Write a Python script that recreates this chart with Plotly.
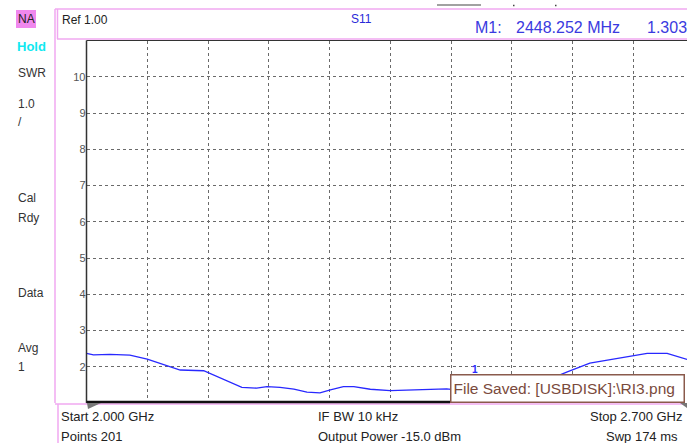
import plotly.graph_objects as go

W, H = 687, 443

# ---- data ----
freq_ghz = [2.000, 2.008, 2.027, 2.050, 2.070, 2.081, 2.097, 2.108, 2.135, 2.146,
            2.166, 2.179, 2.196, 2.208, 2.223, 2.239, 2.254, 2.269, 2.281, 2.296,
            2.308, 2.327, 2.350, 2.377, 2.392, 2.415, 2.448, 2.480, 2.515, 2.540,
            2.554, 2.580, 2.607, 2.630, 2.646, 2.669, 2.688, 2.692]
swr = [2.37, 2.33, 2.34, 2.32, 2.21, 2.12, 1.98, 1.91, 1.89, 1.77,
       1.56, 1.43, 1.41, 1.45, 1.43, 1.38, 1.30, 1.28, 1.36, 1.45,
       1.45, 1.38, 1.34, 1.36, 1.39, 1.39, 1.30, 1.35, 1.55, 1.72,
       1.86, 2.10, 2.21, 2.30, 2.37, 2.37, 2.23, 2.20]
marker_freq = 2.448252
marker_swr = 1.303
y_ticks = [2, 3, 4, 5, 6, 7, 8, 9, 10]
x_grid = [2.07, 2.14, 2.21, 2.28, 2.35, 2.42, 2.49, 2.56, 2.63]
status_labels = ["Hold", "SWR", "1.0", "/", "Cal", "Rdy", "Data", "Avg", "1"]

def px(x):
    return x / W

def py(y):
    return 1 - y / H

fig = go.Figure()
fig.add_trace(go.Scatter(x=freq_ghz, y=swr, mode="lines",
                         line=dict(color="#2828ff", width=1.3), hoverinfo="skip"))

FONT = "Liberation Sans, Arial, sans-serif"
grid = dict(showgrid=True, gridcolor="#6a6a6a", griddash="dot", gridwidth=1,
            zeroline=False, showline=False, ticks="")

fig.update_layout(
    width=W, height=H, margin=dict(l=0, r=0, t=0, b=0),
    paper_bgcolor="white", plot_bgcolor="white", showlegend=False,
    font=dict(family=FONT, size=12, color="#222"),
    xaxis=dict(domain=[86.5 / W, 1], range=[2.0, 2.0 + 0.7 * (W - 86.5) / 607.5],
               tickvals=x_grid, showticklabels=False, **grid),
    yaxis=dict(domain=[py(403), py(40.5)], range=[1, 11], tickvals=y_ticks,
               ticktext=[str(v) for v in y_ticks],
               tickfont=dict(size=11, color="#555"), **grid),
)

shapes = []
pink = "#f0a8f0"
# outer pink frame lines
shapes.append(dict(type="line", xref="paper", yref="paper", x0=px(55), x1=px(55), y0=py(9), y1=py(403),
                   line=dict(color=pink, width=1.5)))
shapes.append(dict(type="line", xref="paper", yref="paper", x0=px(55), x1=1, y0=py(9), y1=py(9),
                   line=dict(color=pink, width=1.5)))
shapes.append(dict(type="line", xref="paper", yref="paper", x0=px(57.5), x1=px(57.5), y0=py(9), y1=py(39),
                   line=dict(color=pink, width=1.5)))
shapes.append(dict(type="line", xref="paper", yref="paper", x0=px(57), x1=1, y0=py(39), y1=py(39),
                   line=dict(color=pink, width=1.5)))
shapes.append(dict(type="line", xref="paper", yref="paper", x0=px(55), x1=1, y0=py(404), y1=py(404),
                   line=dict(color=pink, width=1.5)))
shapes.append(dict(type="line", xref="paper", yref="paper", x0=px(58), x1=px(58), y0=py(404), y1=0,
                   line=dict(color=pink, width=1.5)))
# plot frame lines
shapes.append(dict(type="line", xref="paper", yref="paper", x0=px(86.5), x1=px(86.5), y0=py(403), y1=py(40.5),
                   line=dict(color="#333", width=1.5)))
shapes.append(dict(type="line", xref="paper", yref="paper", x0=px(86.5), x1=1, y0=py(40.5), y1=py(40.5),
                   line=dict(color="#333", width=1.2)))
shapes.append(dict(type="line", xref="paper", yref="paper", x0=px(86.5), x1=px(450), y0=py(402), y1=py(402),
                   line=dict(color="#111", width=2.5)))
# NA highlight
shapes.append(dict(type="rect", xref="paper", yref="paper", x0=px(16), x1=px(36), y0=py(28), y1=py(10),
                   fillcolor="#f088ee", line=dict(width=0)))
# small top marks
shapes.append(dict(type="line", xref="paper", yref="paper", x0=px(437), x1=px(481), y0=py(5), y1=py(5),
                   line=dict(color="#444", width=1.2)))
for xx in (513, 555):
    shapes.append(dict(type="line", xref="paper", yref="paper", x0=px(xx), x1=px(xx + 1.5), y0=py(5.5), y1=py(5.5),
                       line=dict(color="#444", width=1.5)))
# start / stop wedge markers
shapes.append(dict(type="path", xref="paper", yref="paper",
                   path=f"M {px(87)},{py(403)} L {px(101)},{py(403)} L {px(88)},{py(409)} Z",
                   fillcolor="#777", line=dict(width=0)))
shapes.append(dict(type="path", xref="paper", yref="paper",
                   path=f"M {px(680)},{py(403)} L {px(687)},{py(403)} L {px(687)},{py(408)} Z",
                   fillcolor="#777", line=dict(width=0)))
fig.update_layout(shapes=shapes)

ann = []
def text(x, y, s, size=12, color="#222", anchor="left", bold=False):
    ann.append(dict(xref="paper", yref="paper", x=px(x), y=py(y), text=f"<b>{s}</b>" if bold else s,
                    showarrow=False, xanchor=anchor, yanchor="middle",
                    font=dict(family=FONT, size=size, color=color)))

text(16, 19, "NA", 12)
status_y = [46, 73, 104, 122, 198, 218, 293, 348, 367]
for lab, yy in zip(status_labels, status_y):
    if lab == "Hold":
        text(15, yy, lab, 13, "#10e8f0", bold=True)
    else:
        text(16, yy, lab, 12, "#333")

text(60, 20, "Ref 1.00", 12, "#222")
text(361, 19, "S11", 12, "#2a2ad8", anchor="center")
text(473, 28, "M1:", 16, "#3a3ae0")
text(514, 28, "2448.252 MHz", 16, "#3a3ae0")
text(689, 28, "1.303", 16, "#3a3ae0", anchor="right")

text(59, 416, "Start 2.000 GHz", 13, "#222")
text(59, 436, "Points 201", 13, "#222")
text(316, 416, "IF BW 10 kHz", 13, "#222")
text(316, 436, "Output Power -15.0 dBm", 13, "#222")
text(685, 416, "Stop 2.700 GHz", 13, "#222", anchor="right")
text(680, 436, "Swp 174 ms", 13, "#222", anchor="right")

# marker label
ann.append(dict(xref="x", yref="y", x=marker_freq, y=marker_swr, text="<b>1</b>", showarrow=False,
                yshift=23, xshift=-1, font=dict(family=FONT, size=10, color="#2828ff")))

# file saved popup
ann.append(dict(xref="paper", yref="paper", x=px(450), y=py(403), xanchor="left", yanchor="bottom",
                text="File Saved: [USBDISK]:\\RI3.png", showarrow=False,
                width=228, height=22, align="left", bgcolor="white",
                bordercolor="#8a5a4c", borderwidth=1.5, borderpad=2,
                font=dict(family=FONT, size=15.5, color="#7a4a3c")))

fig.update_layout(annotations=ann)
fig.write_html("out.html", config={"displayModeBar": False},
               post_script="document.body.style.margin='0';document.body.style.overflow='hidden';")
